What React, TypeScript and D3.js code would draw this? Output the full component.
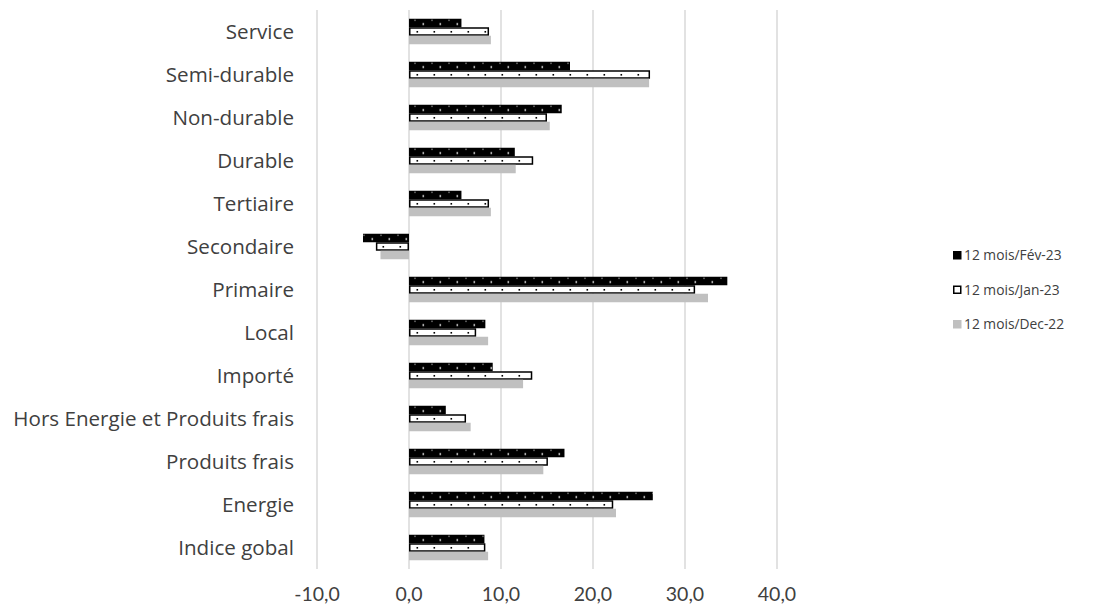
import React, { useEffect, useRef } from "react";
import * as d3 from "d3";

const categories = [
  "Service",
  "Semi-durable",
  "Non-durable",
  "Durable",
  "Tertiaire",
  "Secondaire",
  "Primaire",
  "Local",
  "Importé",
  "Hors Energie et Produits frais",
  "Produits frais",
  "Energie",
  "Indice gobal",
];
const seriesNames = ["12 mois/Fév-23", "12 mois/Jan-23", "12 mois/Dec-22"];
const fev23 = [5.7, 17.5, 16.6, 11.5, 5.7, -5.0, 34.6, 8.3, 9.1, 4.0, 16.9, 26.5, 8.2];
const jan23 = [8.7, 26.2, 15.0, 13.5, 8.7, -3.6, 31.1, 7.3, 13.4, 6.2, 15.1, 22.2, 8.3];
const dec22 = [8.9, 26.1, 15.3, 11.6, 8.9, -3.1, 32.5, 8.6, 12.4, 6.7, 14.6, 22.5, 8.6];
const xTicks = [-10, 0, 10, 20, 30, 40];

const W = 1104;
const H = 612;
const FONT = "Lato, 'Open Sans', sans-serif";
const FONT2 = "'Open Sans', Lato, sans-serif";
const TXT = "#404040";

export default function App() {
  const ref = useRef<SVGSVGElement | null>(null);

  useEffect(() => {
    const svg = d3.select(ref.current);
    svg.selectAll("*").remove();

    const x = d3.scaleLinear().domain([-10, 40]).range([317, 777]);
    const y = d3
      .scaleBand<string>()
      .domain(categories)
      .range([10, 569])
      .paddingInner(0.407)
      .paddingOuter(0.2035);
    const sub = d3.scaleBand<string>().domain(seriesNames).range([0, y.bandwidth()]);
    const values = [fev23, jan23, dec22];
    const bh = sub.bandwidth();

    const defs = svg.append("defs");

    // gridlines
    svg
      .append("g")
      .selectAll("line")
      .data(xTicks)
      .join("line")
      .attr("x1", (d) => x(d))
      .attr("x2", (d) => x(d))
      .attr("y1", 10)
      .attr("y2", 569)
      .attr("stroke", "#d9d9d9")
      .attr("stroke-width", 1.5);

    // tick labels
    svg
      .append("g")
      .selectAll("text")
      .data(xTicks)
      .join("text")
      .attr("x", (d) => x(d))
      .attr("y", 601)
      .attr("text-anchor", "middle")
      .attr("font-family", FONT)
      .attr("font-size", 19.5)
      .attr("fill", TXT)
      .text((d) => d3.format(".1f")(d).replace(".", ",").replace("\u2212", "-"));

    // category labels
    svg
      .append("g")
      .selectAll("text")
      .data(categories)
      .join("text")
      .attr("x", 294)
      .attr("y", (d) => (y(d) as number) + y.bandwidth() / 2)
      .attr("dy", "0.35em")
      .attr("text-anchor", "end")
      .attr("font-family", FONT2)
      .attr("font-size", 20.6)
      .attr("fill", TXT)
      .text((d) => d);

    // bars
    const gBars = svg.append("g");
    categories.forEach((cat, i) => {
      seriesNames.forEach((s, si) => {
        const v = values[si][i];
        const by = (y(cat) as number) + (sub(s) as number);
        const x0 = x(Math.min(0, v));
        const x1 = x(Math.max(0, v));
        if (si === 0) {
          const pid = `pf-${i}`;
          const p = defs
            .append("pattern")
            .attr("id", pid)
            .attr("patternUnits", "userSpaceOnUse")
            .attr("x", x(0))
            .attr("y", by)
            .attr("width", 17)
            .attr("height", bh);
          p.append("rect").attr("width", 17).attr("height", bh).attr("fill", "#000");
          p.append("rect").attr("x", 5.5).attr("y", 1).attr("width", 1).attr("height", 1).attr("fill", "#fff");
          p.append("rect").attr("x", 13.5).attr("y", 4.5).attr("width", 1.6).attr("height", 1.6).attr("fill", "#fff");
          gBars
            .append("rect")
            .attr("x", x0)
            .attr("y", by)
            .attr("width", x1 - x0)
            .attr("height", bh)
            .attr("fill", `url(#${pid})`);
        } else if (si === 1) {
          const pid = `pj-${i}`;
          const p = defs
            .append("pattern")
            .attr("id", pid)
            .attr("patternUnits", "userSpaceOnUse")
            .attr("x", x(0))
            .attr("y", by)
            .attr("width", 17)
            .attr("height", bh);
          p.append("rect").attr("width", 17).attr("height", bh).attr("fill", "#fff");
          p.append("rect").attr("x", 7.5).attr("y", bh / 2 - 0.5).attr("width", 1.6).attr("height", 1.6).attr("fill", "#000");
          gBars
            .append("rect")
            .attr("x", x0 + 0.75)
            .attr("y", by + 0.75)
            .attr("width", Math.max(0, x1 - x0 - 1.5))
            .attr("height", bh - 1.5)
            .attr("fill", `url(#${pid})`)
            .attr("stroke", "#000")
            .attr("stroke-width", 1.5);
        } else {
          gBars
            .append("rect")
            .attr("x", x0)
            .attr("y", by)
            .attr("width", x1 - x0)
            .attr("height", bh)
            .attr("fill", "#c0c0c0");
        }
      });
    });

    // legend
    const legY = [255.5, 290, 324.5];
    const lg = svg.append("g");
    seriesNames.forEach((s, si) => {
      const cy = legY[si];
      if (si === 0) {
        lg.append("rect").attr("x", 953).attr("y", cy - 4.5).attr("width", 8.5).attr("height", 8.5).attr("fill", "#000");
      } else if (si === 1) {
        lg.append("rect").attr("x", 953.75).attr("y", cy - 3.75).attr("width", 7).attr("height", 7)
          .attr("fill", "#fff").attr("stroke", "#000").attr("stroke-width", 1.5);
      } else {
        lg.append("rect").attr("x", 953).attr("y", cy - 4.5).attr("width", 8.5).attr("height", 8.5).attr("fill", "#c0c0c0");
      }
      lg.append("text")
        .attr("x", 964)
        .attr("y", cy)
        .attr("dy", "0.35em")
        .attr("font-family", FONT2)
        .attr("font-size", 13.8)
        .attr("fill", TXT)
        .text(s);
    });
  }, []);

  return (
    <svg
      ref={ref}
      width={W}
      height={H}
      style={{ position: "absolute", left: 0, top: 0, background: "#fff" }}
    />
  );
}
